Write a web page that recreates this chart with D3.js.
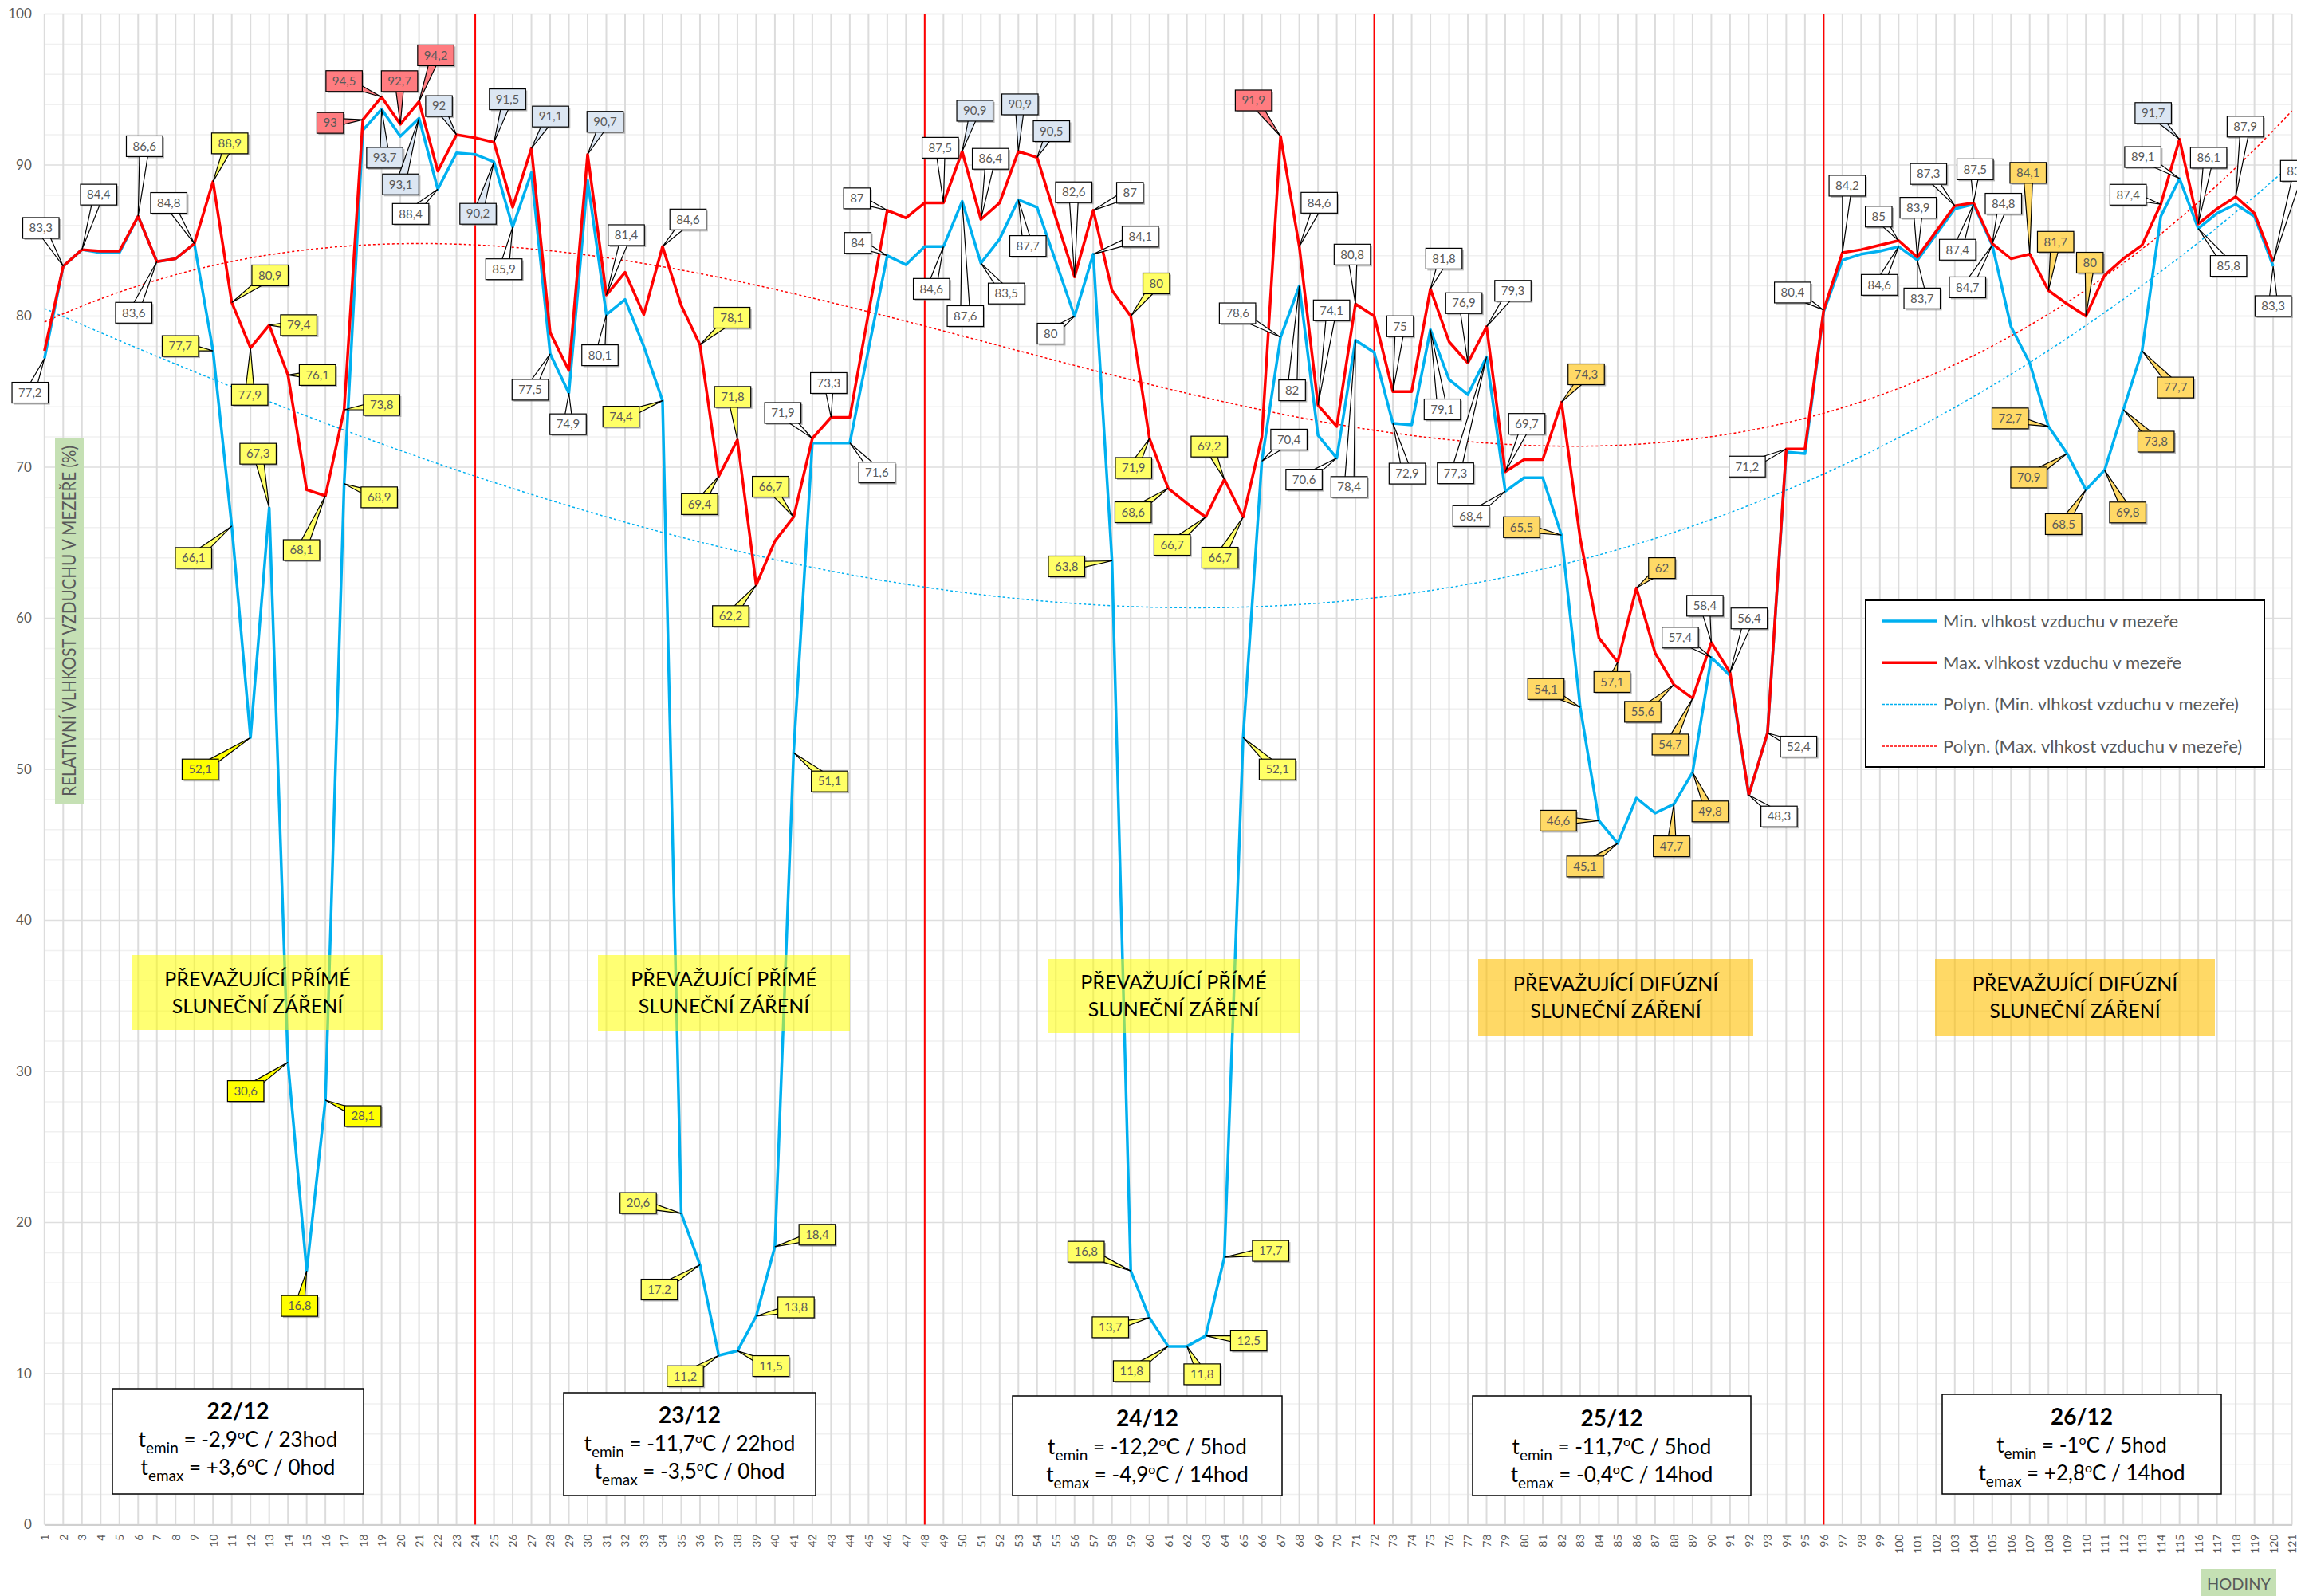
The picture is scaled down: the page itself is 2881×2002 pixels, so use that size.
<!DOCTYPE html>
<html>
<head>
<meta charset="utf-8">
<script src="https://cdn.jsdelivr.net/npm/d3@7"></script>
<style>
  body { margin: 0; background: #fff; }
  text { font-family: Lato, "Noto Sans", sans-serif; }
</style>
</head>
<body>
<div id="chart"></div>
<script>
// hours on the x axis
const hours = d3.range(1, 122);
const yTicks = [0, 10, 20, 30, 40, 50, 60, 70, 80, 90, 100];
const dayBreaks = [24, 48, 72, 96];

// relative humidity in the gap (%), one value per hour
const minHumidity = [
  77.2, 83.3, 84.4, 84.2, 84.2, 86.6, 83.6, 83.8, 84.8, 77.7, 66.1, 52.1, 67.3, 30.6, 16.8, 28.1, 68.9, 92.3, 93.7, 91.9, 93.1, 88.4, 90.8, 90.7,
  90.2, 85.9, 89.5, 77.5, 74.9, 89.0, 80.1, 81.1, 78.0, 74.4, 20.6, 17.2, 11.2, 11.5, 13.8, 18.4, 51.1, 71.6, 71.6, 71.6, 77.8, 84, 83.4, 84.6,
  84.6, 87.6, 83.5, 85.1, 87.7, 87.2, 83.6, 80, 84.1, 63.8, 16.8, 13.7, 11.8, 11.8, 12.5, 17.7, 52.1, 70.4, 78.6, 82, 72.1, 70.6, 78.4, 77.6,
  72.9, 72.8, 79.1, 75.8, 74.8, 77.3, 68.4, 69.3, 69.3, 65.5, 54.1, 46.6, 45.1, 48.1, 47.1, 47.7, 49.8, 57.4, 56.2, 48.3, 52.4, 71.0, 70.9, 80.3,
  83.7, 84.1, 84.3, 84.6, 83.7, 85.4, 87.1, 87.4, 84.7, 79.3, 76.9, 72.7, 70.9, 68.5, 69.8, 73.8, 77.7, 86.6, 89.1, 85.8, 86.8, 87.4, 86.6, 83.3
];
const maxHumidity = [
  77.7, 83.3, 84.4, 84.3, 84.3, 86.6, 83.6, 83.8, 84.8, 88.9, 80.9, 77.9, 79.4, 76.1, 68.5, 68.1, 73.8, 93, 94.5, 92.7, 94.2, 89.6, 92, 91.8,
  91.5, 87.2, 91.1, 78.9, 76.4, 90.7, 81.4, 82.9, 80.1, 84.6, 80.7, 78.1, 69.4, 71.8, 62.2, 65.1, 66.7, 71.9, 73.3, 73.3, 80.2, 87, 86.5, 87.5,
  87.5, 90.9, 86.4, 87.5, 90.9, 90.5, 86.5, 82.6, 87, 81.7, 80, 71.9, 68.6, 67.6, 66.7, 69.2, 66.7, 72.0, 91.9, 84.6, 74.1, 72.7, 80.8, 80.0,
  75, 75, 81.8, 78.3, 76.9, 79.3, 69.7, 70.5, 70.5, 74.3, 65.3, 58.7, 57.1, 62, 57.7, 55.6, 54.7, 58.4, 56.4, 48.3, 52.4, 71.2, 71.2, 80.4,
  84.2, 84.4, 84.7, 85, 83.9, 85.6, 87.3, 87.5, 84.8, 83.8, 84.1, 81.7, 80.8, 80, 82.7, 83.8, 84.7, 87.4, 91.7, 86.1, 87.1, 87.9, 86.8, 83.6
];

// per day notes
const dayNames = ["22/12", "23/12", "24/12", "25/12", "26/12"];
const tMinText = ["-2,9", "-11,7", "-12,2", "-11,7", "-1"];
const tMinHour = ["23hod", "22hod", "5hod", "5hod", "5hod"];
const tMaxText = ["+3,6", "-3,5", "-4,9", "-0,4", "+2,8"];
const tMaxHour = ["0hod", "0hod", "14hod", "14hod", "14hod"];
const radiation = ["PŘÍMÉ", "PŘÍMÉ", "PŘÍMÉ", "DIFÚZNÍ", "DIFÚZNÍ"];

const seriesNames = ["Min. vlhkost vzduchu v mezeře", "Max. vlhkost vzduchu v mezeře"];

// callouts: [hour, dx, dy, style]  (offsets of the box from the point, px)
const maxLabels = [
  [2, -28, -48, "w"], [3, 21, -69, "w"], [6, 8, -88, "w"], [7, -29, 64, "w"], [9, -32, -51, "w"],
  [10, 21, -48, "y"], [11, 48, -34, "y"], [12, -1, 59, "y"], [13, 37, 0, "y"], [14, 37, 0, "y"],
  [16, -30, 68, "y"], [17, 47, -6, "y"], [18, -41, 4, "r"], [19, -47, -20, "r"], [20, -1, -54, "r"],
  [21, 21, -58, "r"], [23, -22, -36, "b"], [25, 17, -54, "b"], [27, 24, -40, "b"], [30, 22, -41, "b"],
  [31, 25, -75, "w"], [34, 32, -34, "w"], [36, 40, -34, "y"], [37, -24, 35, "y"], [38, -6, -54, "y"],
  [39, -32, 39, "y"], [41, -29, -38, "y"], [42, -37, -32, "w"], [43, -3, -43, "w"], [46, -38, -15, "w"],
  [49, -4, -69, "w"], [50, 16, -51, "b"], [51, 12, -76, "w"], [53, 2, -59, "b"], [54, 18, -33, "b"],
  [56, -1, -106, "w"], [57, 46, -22, "w"], [59, 32, -41, "y"], [60, -20, 37, "y"], [61, -44, 30, "y"],
  [63, -42, 35, "y"], [64, -19, -41, "y"], [65, -29, 51, "y"], [67, -34, -45, "r"], [68, 25, -55, "w"],
  [69, 17, -119, "w"], [71, -4, -62, "w"], [73, 9, -82, "w"], [75, 17, -38, "w"], [77, -5, -75, "w"],
  [78, 33, -45, "w"], [79, 27, -60, "w"], [82, 31, -35, "o"], [85, -7, 25, "o"], [86, 32, -25, "o"],
  [88, -39, 34, "o"], [89, -28, 58, "o"], [90, -8, -46, "w"], [91, 24, -68, "w"], [92, 38, 27, "w"],
  [93, 39, 17, "w"], [94, -49, 22, "w"], [96, -39, -22, "w"], [97, 6, -84, "w"], [100, -25, -30, "w"],
  [101, 1, -62, "w"], [103, -33, -40, "w"], [104, 2, -42, "w"], [105, 14, -50, "w"], [107, -2, -102, "o"],
  [108, 9, -61, "o"], [110, 5, -67, "o"], [114, -41, -12, "w"], [115, -33, -33, "b"], [116, 13, -83, "w"],
  [118, 12, -88, "w"], [120, 32, -114, "w"]
];
const minLabels = [
  [1, -18, 43, "w"], [10, -41, -6, "y"], [11, -48, 40, "y"], [12, -63, 40, "Y"], [13, -14, -68, "y"],
  [14, -53, 36, "Y"], [15, -9, 44, "Y"], [16, 47, 20, "Y"], [17, 44, 17, "y"], [19, 4, 61, "b"],
  [21, -23, 83, "b"], [22, -34, 31, "w"], [25, -20, 65, "b"], [26, -11, 53, "w"], [28, -25, 45, "w"],
  [29, -1, 39, "w"], [31, -8, 51, "w"], [34, -52, 20, "y"], [35, -54, -13, "y"], [36, -51, 31, "y"],
  [37, -42, 26, "y"], [38, 42, 19, "y"], [39, 50, -11, "y"], [40, 53, -15, "y"], [41, 45, 36, "y"],
  [44, 34, 37, "w"], [46, -37, -16, "w"], [49, -15, 53, "w"], [50, 4, 144, "w"], [51, 32, 38, "w"],
  [53, 12, 58, "w"], [56, -30, 22, "w"], [57, 59, -22, "w"], [58, -57, 7, "y"], [59, -56, -24, "y"],
  [60, -49, 12, "y"], [61, -46, 31, "y"], [62, 19, 35, "y"], [63, 54, 6, "y"], [64, 58, -8, "y"],
  [65, 43, 40, "y"], [66, 34, -27, "w"], [67, -54, -30, "w"], [68, -9, 131, "w"], [70, -41, 27, "w"],
  [71, -8, 184, "w"], [73, 18, 63, "w"], [75, 15, 100, "w"], [78, -39, 146, "w"], [79, -43, 31, "w"],
  [82, -50, -10, "o"], [83, -43, -23, "o"], [84, -51, 0, "o"], [85, -41, 29, "o"], [88, -3, 53, "o"],
  [89, 22, 49, "o"], [90, -39, -25, "w"], [100, -24, 48, "w"], [101, 6, 48, "w"], [104, -20, 57, "w"],
  [105, -31, 53, "w"], [108, -48, -10, "o"], [109, -48, 30, "o"], [110, -28, 43, "o"], [111, 29, 53, "o"],
  [112, 41, 40, "o"], [113, 42, 46, "o"], [115, -46, -27, "w"], [116, 38, 47, "w"], [120, 0, 50, "w"]
];

(function() {
  const width = 2881, height = 2002;
  const plot = { left: 55.8, right: 2874.6, top: 17.5, bottom: 1912.5 };
  const gray = "#595959";
  const blue = "#00b0f0", red = "#ff0000";
  const boxFill = { w: "#ffffff", y: "#ffff66", Y: "#ffff00", b: "#dce6f2", r: "#ff7c80", o: "#ffd966" };

  // boxes in pixels (layout only)
  const radBoxes = [[165, 481, 1198, 1292], [750, 1066, 1198, 1293], [1314, 1630, 1203, 1296], [1854, 2199, 1203, 1299], [2427, 2778, 1203, 1299]];
  const radColor = ["#ffff00", "#ffff00", "#ffff00", "#ffc000", "#ffc000"];
  const dayBoxes = [[141, 456, 1742, 1874], [707, 1023, 1747, 1876], [1270, 1608, 1751, 1876], [1847, 2196, 1751, 1876], [2436, 2786, 1749, 1874]];

  const svg = d3.select("#chart").append("svg")
    .attr("width", width)
    .attr("height", height)
    .style("background", "#fff");

  const x = d3.scaleLinear().domain([1, 121]).range([plot.left, plot.right]);
  const y = d3.scaleLinear().domain([0, 100]).range([plot.bottom, plot.top]);

  // grid
  const grid = svg.append("g");
  grid.selectAll(".hgrid")
    .data(d3.range(0, 101, 2))
    .enter().append("line")
    .attr("x1", plot.left).attr("x2", plot.right)
    .attr("y1", d => y(d)).attr("y2", d => y(d))
    .attr("stroke", d => d % 10 === 0 ? "#dedede" : "#f0f0f0")
    .attr("stroke-width", 1.5);
  grid.selectAll(".vgrid")
    .data(hours)
    .enter().append("line")
    .attr("x1", d => x(d)).attr("x2", d => x(d))
    .attr("y1", plot.top).attr("y2", plot.bottom)
    .attr("stroke", "#dcdcdc")
    .attr("stroke-width", 2);

  // axes
  const xAxis = svg.append("g")
    .attr("transform", "translate(0," + plot.bottom + ")")
    .call(d3.axisBottom(x).tickValues(hours).tickSize(0).tickFormat(d3.format("d")));
  xAxis.select(".domain").attr("stroke", "#d0d0d0").attr("stroke-width", 2);
  xAxis.selectAll("text")
    .attr("transform", "rotate(-90)")
    .attr("x", -12).attr("y", 0).attr("dy", "0.35em")
    .style("text-anchor", "end")
    .style("font-size", "14px")
    .style("font-family", "Lato, sans-serif")
    .attr("fill", gray);

  const yAxis = svg.append("g")
    .attr("transform", "translate(" + plot.left + ",0)")
    .call(d3.axisLeft(y).tickValues(yTicks).tickSize(0).tickPadding(16));
  yAxis.select(".domain").remove();
  yAxis.selectAll("text")
    .style("font-size", "17px")
    .style("font-family", "Lato, sans-serif")
    .attr("fill", gray);

  // day separators
  svg.selectAll(".daybreak")
    .data(dayBreaks)
    .enter().append("line")
    .attr("x1", d => x(d)).attr("x2", d => x(d))
    .attr("y1", plot.top).attr("y2", plot.bottom)
    .attr("stroke", red)
    .attr("stroke-width", 2);

  // y title
  svg.append("rect")
    .attr("x", 69).attr("y", 550).attr("width", 36).attr("height", 458)
    .attr("fill", "#c5e0b4");
  svg.append("text")
    .attr("transform", "translate(95,779) rotate(-90)")
    .attr("text-anchor", "middle")
    .attr("textLength", 440)
    .attr("lengthAdjust", "spacingAndGlyphs")
    .style("font-size", "23px")
    .attr("fill", gray)
    .text("RELATIVNÍ VLHKOST VZDUCHU V MEZEŘE (%)");

  // polynomial trend (least squares, like the spreadsheet trendline)
  function polyfit(vals, order) {
    const n = order + 1;
    const A = d3.range(n).map(() => new Array(n + 1).fill(0));
    vals.forEach(function(v, i) {
      const t = (hours[i] - 60.5) / 60;
      const p = d3.range(2 * n).map(k => Math.pow(t, k));
      for (let r = 0; r < n; r++) {
        for (let c = 0; c < n; c++) A[r][c] += p[r + c];
        A[r][n] += v * p[r];
      }
    });
    for (let c = 0; c < n; c++) {
      for (let r = c + 1; r < n; r++) {
        const f = A[r][c] / A[c][c];
        for (let k = c; k <= n; k++) A[r][k] -= f * A[c][k];
      }
    }
    const coef = new Array(n).fill(0);
    for (let r = n - 1; r >= 0; r--) {
      let s = A[r][n];
      for (let k = r + 1; k < n; k++) s -= A[r][k] * coef[k];
      coef[r] = s / A[r][r];
    }
    return function(h) {
      const t = (h - 60.5) / 60;
      return coef.reduce((acc, c, k) => acc + c * Math.pow(t, k), 0);
    };
  }

  const trendLine = d3.line().x(d => x(d[0])).y(d => y(d[1]));
  [[minHumidity, blue], [maxHumidity, red]].forEach(function(s) {
    const f = polyfit(s[0], 3);
    const pts = d3.range(1, 121.01, 0.5).map(h => [h, f(h)]);
    svg.append("path")
      .attr("d", trendLine(pts))
      .attr("fill", "none")
      .attr("stroke", s[1])
      .attr("stroke-width", 1.5)
      .attr("stroke-dasharray", "3,3");
  });

  // series lines
  const line = d3.line().x((d, i) => x(hours[i])).y(d => y(d));
  svg.append("path").datum(minHumidity)
    .attr("d", line).attr("fill", "none")
    .attr("stroke", blue).attr("stroke-width", 3.5).attr("stroke-linejoin", "round");
  svg.append("path").datum(maxHumidity)
    .attr("d", line).attr("fill", "none")
    .attr("stroke", red).attr("stroke-width", 3.5).attr("stroke-linejoin", "round");

  // radiation boxes
  radBoxes.forEach(function(b, i) {
    svg.append("rect")
      .attr("x", b[0]).attr("y", b[2])
      .attr("width", b[1] - b[0]).attr("height", b[3] - b[2])
      .attr("fill", radColor[i]).attr("fill-opacity", i < 3 ? 0.55 : 0.6);
    const cx = (b[0] + b[1]) / 2, cy = (b[2] + b[3]) / 2;
    svg.append("text")
      .attr("x", cx).attr("y", cy - 17).attr("dy", "0.35em")
      .attr("text-anchor", "middle")
      .style("font-size", "25px").attr("fill", "#000")
      .text("PŘEVAŽUJÍCÍ " + radiation[i]);
    svg.append("text")
      .attr("x", cx).attr("y", cy + 17).attr("dy", "0.35em")
      .attr("text-anchor", "middle")
      .style("font-size", "25px").attr("fill", "#000")
      .text("SLUNEČNÍ ZÁŘENÍ");
  });

  // day boxes
  function tempLine(t, sub, val, hour) {
    t.append("tspan").text("t");
    t.append("tspan").attr("dy", 8).style("font-size", "19px").text(sub);
    t.append("tspan").attr("dy", -8).text(" = " + val);
    t.append("tspan").attr("dy", -10).style("font-size", "16px").text("o");
    t.append("tspan").attr("dy", 10).text("C / " + hour);
  }
  dayBoxes.forEach(function(b, i) {
    svg.append("rect")
      .attr("x", b[0]).attr("y", b[2])
      .attr("width", b[1] - b[0]).attr("height", b[3] - b[2])
      .attr("fill", "#fff").attr("stroke", "#000").attr("stroke-width", 1.5);
    const cx = (b[0] + b[1]) / 2;
    svg.append("text")
      .attr("x", cx).attr("y", b[2] + 28).attr("dy", "0.35em")
      .attr("text-anchor", "middle")
      .style("font-size", "28px").style("font-weight", "bold")
      .text(dayNames[i]);
    tempLine(svg.append("text")
      .attr("x", cx).attr("y", b[2] + 64).attr("dy", "0.35em")
      .attr("text-anchor", "middle").style("font-size", "26px"),
      "emin", tMinText[i], tMinHour[i]);
    tempLine(svg.append("text")
      .attr("x", cx).attr("y", b[2] + 99).attr("dy", "0.35em")
      .attr("text-anchor", "middle").style("font-size", "26px"),
      "emax", tMaxText[i], tMaxHour[i]);
  });

  // callouts
  const labels = svg.append("g");
  function callout(vals, spec) {
    const h = spec[0], v = vals[h - 1];
    const px = x(h), py = y(v);
    const cx = px + spec[1], cy = py + spec[2];
    const g = labels.append("g");
    const txt = g.append("text")
      .attr("x", cx).attr("y", cy).attr("dy", "0.35em")
      .attr("text-anchor", "middle")
      .style("font-size", "15px")
      .attr("fill", gray)
      .text(String(v).replace(".", ","));
    const w = txt.node().getComputedTextLength() + 16, hh = 26;
    const ang = Math.atan2(py - cy, px - cx);
    const nx = -Math.sin(ang) * 6, ny = Math.cos(ang) * 6;
    g.insert("rect", "text")
      .attr("x", cx - w / 2 + 2).attr("y", cy - hh / 2 + 2)
      .attr("width", w).attr("height", hh)
      .attr("fill", "#808080").attr("fill-opacity", 0.55);
    g.insert("path", "text")
      .attr("d", "M" + px + "," + py + "L" + (cx + nx) + "," + (cy + ny) + "L" + (cx - nx) + "," + (cy - ny) + "Z")
      .attr("fill", boxFill[spec[3]])
      .attr("stroke", "#000").attr("stroke-width", 1.2);
    g.insert("rect", "text")
      .attr("x", cx - w / 2).attr("y", cy - hh / 2)
      .attr("width", w).attr("height", hh)
      .attr("fill", boxFill[spec[3]])
      .attr("stroke", "#000").attr("stroke-width", 1.2);
  }
  minLabels.forEach(s => callout(minHumidity, s));
  maxLabels.forEach(s => callout(maxHumidity, s));

  // legend
  const legend = svg.append("g");
  legend.append("rect")
    .attr("x", 2340).attr("y", 753).attr("width", 500).attr("height", 209)
    .attr("fill", "#fff").attr("stroke", "#000").attr("stroke-width", 2);
  const legendItems = [
    [seriesNames[0], blue, 3.5, null],
    [seriesNames[1], red, 3.5, null],
    ["Polyn. (" + seriesNames[0] + ")", blue, 1.5, "3,2"],
    ["Polyn. (" + seriesNames[1] + ")", red, 1.5, "3,2"]
  ];
  legendItems.forEach(function(d, i) {
    const ly = 779 + i * 52.3;
    legend.append("line")
      .attr("x1", 2361).attr("x2", 2429).attr("y1", ly).attr("y2", ly)
      .attr("stroke", d[1]).attr("stroke-width", d[2])
      .attr("stroke-dasharray", d[3]);
    legend.append("text")
      .attr("x", 2437).attr("y", ly).attr("dy", "0.35em")
      .style("font-size", "22px").attr("fill", gray)
      .text(d[0]);
  });

  // x title
  svg.append("rect")
    .attr("x", 2761).attr("y", 1968).attr("width", 94).attr("height", 40)
    .attr("fill", "#c5e0b4");
  svg.append("text")
    .attr("x", 2808).attr("y", 1987).attr("dy", "0.35em")
    .attr("text-anchor", "middle")
    .style("font-size", "20px").attr("fill", gray)
    .text("HODINY");
})();
</script>
</body>
</html>
